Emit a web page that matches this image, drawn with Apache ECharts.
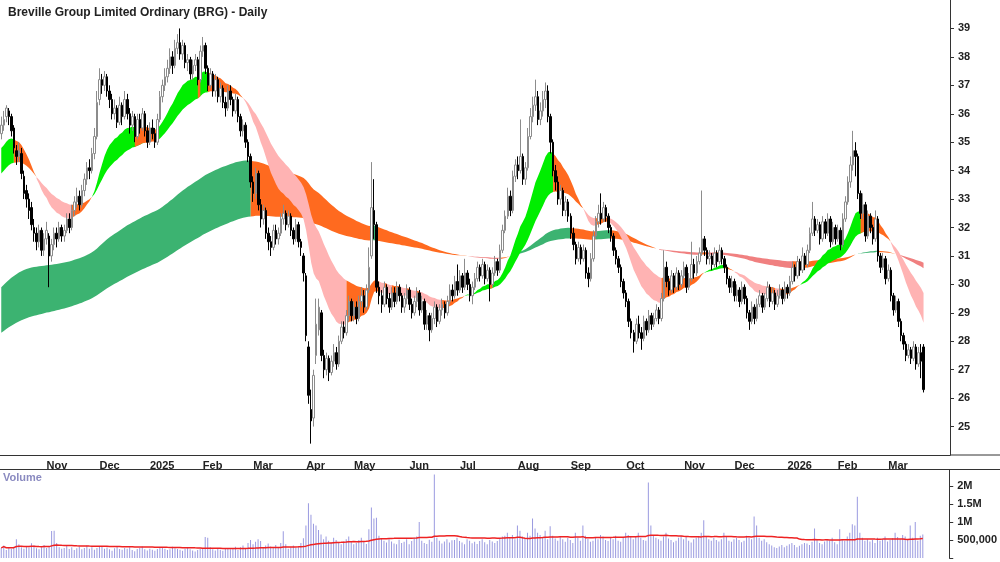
<!DOCTYPE html>
<html><head><meta charset="utf-8">
<script src="https://cdn.jsdelivr.net/npm/echarts@6/dist/echarts.min.js"></script>
<style>html,body{margin:0;padding:0;background:#fff}#c{width:1000px;height:562px}</style>
</head><body><div id="c"></div>
<script>
const TITLE = 'Breville Group Limited Ordinary (BRG) - Daily';
const START_DATE = '2024-10-08';
const HOLIDAYS = ['2024-12-25','2024-12-26','2025-01-01','2025-01-27','2025-04-18','2025-04-21','2025-04-25','2025-06-09','2025-12-25','2025-12-26','2026-01-01','2026-01-26'];
const EMPTY_DAYS_AT_END = 10;
// [open, close, low, high]
const candles = [
[35.3,35.6,35.1,35.9],[35.6,35.8,35.4,36.1],[35.9,36.2,35.7,36.3],[36.1,35.9,35.6,36.2],[35.9,35.4,35.2,36.0],[35.5,34.8,34.6,35.6],[34.7,34.5,34.2,34.9],[34.5,34.7,34.3,35.0],[34.6,33.9,33.7,34.8],[33.8,33.2,33.0,34.0],
[33.3,33.0,32.7,33.5],[33.0,32.6,32.3,33.2],[32.7,32.1,31.9,32.9],[32.0,31.8,31.5,32.3],[31.8,31.5,31.2,32.0],[31.5,31.9,31.3,32.1],[31.9,31.2,31.0,32.0],[31.2,31.6,31.0,31.8],[31.6,31.9,31.4,32.2],[31.7,31.0,29.9,31.8],
[31.0,31.4,30.8,31.6],[31.4,31.8,31.2,32.0],[31.8,31.6,31.3,32.0],[31.6,32.0,31.5,32.2],[32.0,31.7,31.5,32.1],[31.7,31.9,31.5,32.1],[31.9,32.3,31.8,32.5],[32.3,32.0,31.8,32.5],[32.0,32.6,31.9,32.8],[32.6,32.9,32.4,33.1],
[32.9,33.1,32.7,33.4],[33.1,32.8,32.6,33.3],[32.8,33.3,32.7,33.5],[33.3,33.7,33.1,33.9],[33.7,34.1,33.5,34.3],[34.1,34.0,33.7,34.4],[34.0,34.6,33.9,34.8],[34.6,35.2,34.4,35.5],[35.2,36.4,35.1,36.8],[36.5,37.2,36.3,37.6],
[37.2,37.0,36.7,37.4],[37.0,37.3,36.8,37.5],[37.3,36.8,36.6,37.4],[36.8,36.5,36.2,37.0],[36.5,36.0,35.8,36.7],[36.0,36.2,35.8,36.5],[36.2,35.7,35.5,36.3],[35.7,36.3,35.6,36.6],[36.3,35.9,35.6,36.4],[35.9,36.5,35.8,36.8],
[36.5,36.0,35.8,36.7],[36.0,35.6,35.3,36.2],[35.6,35.9,35.4,36.1],[35.9,35.2,35.0,36.0],[35.2,35.8,35.1,36.0],[35.8,35.5,35.3,36.0],[35.5,36.0,35.4,36.2],[36.0,35.4,35.2,36.1],[35.4,35.0,34.8,35.6],[35.0,35.5,34.9,35.7],
[35.5,35.3,35.1,35.8],[35.3,35.0,34.8,35.5],[35.0,35.8,34.9,36.0],[35.8,36.6,35.7,36.8],[36.6,37.0,36.4,37.2],[37.0,37.3,36.8,37.6],[37.3,37.6,37.1,37.9],[37.6,38.0,37.4,38.3],[38.0,37.7,37.4,38.2],[37.7,38.3,37.6,38.6],
[38.3,38.5,38.1,38.8],[38.5,38.1,37.9,39.0],[38.1,38.4,37.9,38.6],[38.4,37.8,37.6,38.5],[37.8,37.9,37.5,38.1],[37.9,37.4,37.2,38.0],[37.4,37.7,37.2,37.9],[37.7,37.9,37.5,38.1],[37.9,37.2,37.0,38.0],[37.2,38.2,37.1,38.4],
[38.2,38.4,38.0,38.7],[38.4,37.6,37.4,38.5],[37.6,37.0,36.8,37.7],[37.0,37.4,36.9,37.6],[37.4,36.8,36.6,37.5],[36.8,37.2,36.6,37.4],[37.2,36.6,36.4,37.3],[36.6,36.9,36.4,37.1],[36.9,36.4,36.2,37.0],[36.4,36.2,35.9,36.6],
[36.2,36.8,36.1,37.0],[36.8,36.5,36.3,37.0],[36.5,36.1,35.9,36.6],[36.1,36.5,36.0,36.7],[36.5,35.9,35.7,36.6],[35.9,35.4,35.2,36.0],[35.4,35.6,35.2,35.8],[35.6,35.0,34.8,35.7],[35.0,34.5,34.3,35.1],[34.5,33.6,33.4,34.6],
[33.6,33.2,32.9,33.8],[33.2,33.9,33.0,34.1],[33.9,32.8,32.6,34.0],[32.8,32.3,32.0,33.0],[32.3,32.6,32.1,32.8],[32.6,31.8,31.6,32.7],[31.8,31.5,31.2,32.0],[31.5,31.3,31.0,31.7],[31.3,31.9,31.2,32.1],[31.9,31.6,31.4,32.1],
[31.6,31.8,31.4,32.0],[31.8,32.3,31.7,32.5],[32.3,32.5,32.1,32.8],[32.5,32.1,31.9,32.6],[32.1,32.4,32.0,32.6],[32.4,31.9,31.7,32.5],[31.9,31.6,31.4,32.0],[31.6,32.1,31.5,32.3],[32.1,31.5,31.3,32.2],[31.5,31.3,31.0,31.6],
[31.0,30.4,30.1,31.1],[30.3,28.2,28.0,30.4],[27.8,26.1,25.8,28.0],[25.6,25.2,24.4,26.3],[25.3,26.8,25.0,27.0],[27.5,28.6,27.2,29.5],[28.4,29.2,28.2,29.5],[29.0,27.5,27.3,29.1],[27.5,27.0,26.7,27.7],[27.0,27.4,26.8,27.6],
[27.4,26.9,26.6,27.5],[26.9,27.3,26.8,27.5],[27.3,27.6,27.1,27.9],[27.6,27.2,27.0,27.8],[27.2,28.0,27.1,28.2],[28.0,28.5,27.9,28.7],[28.5,28.3,28.1,28.7],[28.3,28.9,28.2,29.1],[28.9,29.4,28.7,29.6],[29.4,28.9,28.7,29.5],
[28.9,29.2,28.7,29.4],[29.2,28.8,28.6,29.4],[28.8,29.4,28.7,29.6],[29.4,29.6,29.2,29.9],[29.6,29.2,29.0,29.8],[29.2,29.8,29.1,30.0],[29.8,30.6,29.7,31.3],[31.0,32.7,30.9,34.3],[32.6,32.1,31.6,33.7],[32.1,29.9,29.7,32.2],
[29.9,29.6,29.3,30.1],[29.6,29.3,29.0,29.8],[29.3,29.9,29.2,30.1],[29.9,29.5,29.3,30.0],[29.5,29.2,29.0,29.7],[29.2,29.7,29.1,29.9],[29.7,29.4,29.2,29.9],[29.4,29.9,29.3,30.1],[29.9,29.6,29.4,30.0],[29.6,29.2,29.0,29.7],
[29.2,29.5,29.0,29.7],[29.5,29.8,29.3,30.0],[29.8,29.3,29.1,29.9],[29.3,29.0,28.8,29.5],[29.0,29.4,28.9,29.6],[29.4,29.7,29.2,29.9],[29.7,29.1,28.9,29.8],[29.1,29.4,29.0,29.6],[29.4,28.6,28.4,29.5],[28.6,28.9,28.4,29.1],
[28.9,28.4,28.0,29.0],[28.4,28.8,28.3,29.0],[28.8,29.2,28.6,29.4],[29.2,28.7,28.5,29.3],[28.7,29.1,28.6,29.3],[29.1,29.3,28.9,29.5],[29.3,29.0,28.8,29.4],[29.0,29.4,28.9,29.6],[29.4,29.8,29.3,30.0],[29.8,29.6,29.4,30.0],
[29.6,30.1,29.5,30.3],[30.1,29.8,29.6,30.7],[29.8,30.3,29.7,30.5],[30.3,29.9,29.7,30.4],[29.9,30.4,29.8,30.9],[30.4,30.0,29.8,30.5],[30.0,29.6,29.4,30.2],[29.6,29.9,29.3,30.1],[29.9,30.2,29.8,30.4],[30.2,30.6,30.1,30.8],
[30.6,30.3,30.1,30.7],[30.3,30.7,30.2,30.9],[30.7,30.2,30.0,30.8],[30.2,30.5,30.1,30.7],[30.5,30.0,29.4,30.6],[30.0,30.4,29.9,30.6],[30.4,30.8,30.3,31.0],[30.8,30.5,30.3,30.9],[30.5,31.2,30.4,31.4],[31.2,31.9,31.1,32.1],
[31.9,32.4,31.8,32.6],[32.4,33.1,32.3,33.4],[33.1,32.6,32.4,33.3],[32.6,33.8,32.5,34.0],[33.8,34.2,33.6,34.4],[34.2,34.0,33.7,34.5],[34.0,34.5,33.9,35.8],[34.5,33.7,33.5,34.6],[33.7,34.1,33.5,34.3],[34.1,35.2,34.0,35.5],
[35.2,35.9,35.1,36.2],[35.9,36.3,35.7,36.6],[36.3,36.6,36.1,37.2],[36.6,35.8,35.6,36.8],[35.8,36.1,35.6,36.4],[36.1,36.5,35.9,36.8],[36.5,36.8,36.2,37.1],[36.8,35.9,35.7,37.0],[35.9,35.0,34.6,36.0],[35.0,34.0,33.8,35.1],
[34.0,33.6,33.3,34.2],[33.6,33.0,32.8,33.8],[33.0,33.3,32.8,33.5],[33.3,32.6,32.4,33.4],[32.6,32.9,32.4,33.1],[32.9,32.4,32.2,33.0],[32.4,31.8,31.6,32.5],[31.8,31.4,31.2,32.0],[31.4,30.9,30.7,31.5],[30.9,31.3,30.8,31.5],
[31.3,30.9,30.7,31.4],[30.9,31.2,30.8,31.4],[31.2,30.4,30.2,31.3],[30.4,30.2,29.9,30.6],[30.2,30.9,30.1,31.1],[30.9,31.7,30.8,31.9],[31.7,32.2,31.6,32.4],[32.2,32.5,32.0,32.8],[32.5,32.3,32.1,33.2],[32.3,32.7,32.2,32.9],
[32.7,32.4,32.2,32.8],[32.4,32.0,31.8,32.5],[32.0,31.7,31.5,32.1],[31.7,31.2,31.0,31.8],[31.2,30.9,30.7,31.3],[30.9,30.6,30.4,31.0],[30.6,30.1,29.9,30.7],[30.1,29.7,29.5,30.2],[29.7,29.4,29.2,29.8],[29.4,28.7,28.5,29.5],
[28.7,28.3,28.1,28.8],[28.3,28.0,27.6,28.4],[28.0,28.6,27.9,28.8],[28.6,28.3,28.1,28.9],[28.3,28.1,27.7,28.5],[28.1,28.7,28.0,28.9],[28.7,28.4,28.2,28.8],[28.4,28.9,28.3,29.1],[28.9,28.6,28.4,29.0],[28.6,28.8,28.5,29.0],
[28.8,29.1,28.7,29.3],[29.1,28.8,28.6,29.2],[28.8,29.5,28.7,29.7],[29.5,30.6,29.4,31.2],[30.6,30.1,29.9,30.8],[30.1,29.8,29.6,30.3],[29.8,30.3,29.7,30.5],[30.3,29.9,29.7,30.4],[29.9,30.4,29.8,30.6],[30.4,30.0,29.8,30.5],
[30.0,30.3,29.9,30.5],[30.3,30.6,30.2,30.8],[30.6,29.9,29.7,30.7],[29.9,30.2,29.8,30.4],[30.2,30.7,30.1,31.5],[30.7,30.4,30.2,30.9],[30.4,30.8,30.3,31.0],[30.8,31.1,30.7,31.3],[31.1,31.6,31.0,33.3],[31.6,31.2,31.0,31.7],
[31.2,30.9,30.7,31.3],[30.9,31.0,30.7,31.2],[31.0,30.7,30.5,31.1],[30.7,31.1,30.6,31.3],[31.1,30.8,30.6,31.2],[30.8,31.2,30.7,31.4],[31.2,30.9,30.7,31.3],[30.9,30.6,30.4,31.0],[30.6,30.2,30.0,30.7],[30.2,29.9,29.7,30.3],
[29.9,30.1,29.7,30.3],[30.1,29.6,29.4,30.2],[29.6,29.8,29.4,30.0],[29.8,29.4,29.2,29.9],[29.4,29.9,29.3,30.1],[29.9,29.5,29.3,30.0],[29.5,29.0,28.8,29.6],[29.0,28.7,28.4,29.1],[28.7,29.2,28.6,29.4],[29.2,28.8,28.6,29.3],
[28.8,29.3,28.7,29.5],[29.3,29.6,29.2,29.8],[29.6,29.2,29.0,29.7],[29.2,29.5,29.1,29.7],[29.5,29.9,29.4,30.1],[29.9,29.4,29.2,30.0],[29.4,29.7,29.3,29.9],[29.7,29.3,29.1,29.8],[29.3,29.6,29.2,29.8],[29.6,29.8,29.5,30.0],
[29.8,29.5,29.3,29.9],[29.5,29.9,29.4,30.1],[29.9,29.7,29.5,30.0],[29.7,30.1,29.6,30.3],[30.1,30.6,30.0,30.8],[30.6,30.3,30.1,30.7],[30.3,30.8,30.2,31.0],[30.8,30.5,30.3,30.9],[30.5,31.0,30.4,31.3],[31.0,30.7,30.5,31.1],
[30.7,31.2,30.6,31.4],[31.2,31.8,31.1,32.0],[31.8,32.3,31.7,32.9],[32.3,31.9,31.7,32.4],[31.9,32.1,31.8,32.3],[32.1,31.6,31.4,32.2],[31.6,32.2,31.5,32.4],[32.2,31.8,31.6,32.3],[31.8,32.3,31.7,32.5],[32.3,31.5,31.3,32.4],
[31.5,32.0,31.4,32.2],[32.0,31.6,31.4,32.1],[31.6,31.9,31.5,32.1],[31.9,31.4,31.2,32.0],[31.4,32.3,31.3,32.5],[32.3,32.9,32.2,33.1],[32.9,33.6,32.8,33.8],[33.6,34.2,33.4,34.5],[34.2,34.7,34.0,35.4],[34.7,34.5,33.8,35.0],
[34.5,33.2,33.0,34.6],[33.2,32.5,32.3,33.3],[32.5,32.8,32.3,33.2],[32.8,31.7,31.5,32.9],[31.7,32.4,31.6,32.6],[32.4,32.0,31.8,32.5],[32.0,31.6,31.4,32.1],[31.6,32.3,31.5,32.6],[32.3,31.0,30.8,32.4],[31.0,30.6,30.4,31.1],
[30.6,30.9,30.5,31.1],[30.9,30.2,30.0,31.0],[30.2,30.5,30.1,30.7],[30.5,29.6,29.4,30.6],[29.6,29.1,28.9,29.7],[29.1,29.4,29.0,29.6],[29.4,28.7,28.5,29.5],[28.7,28.2,28.0,28.8],[28.2,27.9,27.7,28.3],[27.9,27.5,27.3,28.0],
[27.5,27.7,27.4,27.9],[27.7,27.4,27.2,27.8],[27.4,27.8,27.3,28.0],[27.8,27.2,27.0,27.9],[27.2,27.6,27.1,27.8],[27.6,27.3,26.7,27.9],[27.8,26.3,26.2,27.9]
];
// volume in thousands
const volumes = [
280,350,220,300,260,310,520,380,300,260,330,290,410,350,270,240,300,360,280,310,
750,760,420,300,260,280,330,250,300,220,270,310,240,280,350,260,300,230,280,330,
310,260,290,240,200,270,310,250,230,280,260,300,220,190,250,280,320,240,210,260,
230,200,250,280,300,260,220,240,310,270,250,230,200,260,290,240,210,180,220,250,
260,580,560,300,240,210,270,230,200,250,280,240,260,310,220,300,350,280,420,500,
380,450,520,470,300,350,400,320,280,360,300,420,740,380,260,300,350,280,310,420,
550,900,1520,1200,950,900,780,650,520,600,480,430,560,500,420,380,460,520,600,450,
380,420,500,560,460,390,800,1400,1100,1120,620,550,480,430,520,460,400,380,510,420,
450,520,380,470,560,600,1000,480,420,390,510,450,2320,560,480,400,460,520,430,490,
500,560,470,430,380,520,480,410,450,390,470,520,440,380,500,460,420,470,550,600,
620,700,580,640,520,900,760,600,550,700,620,1100,820,700,640,580,760,520,880,620,
540,480,600,520,450,560,500,420,700,560,480,900,620,530,450,480,560,520,640,600,
500,470,560,520,620,480,450,560,700,640,580,520,600,700,560,500,480,2100,900,640,
560,520,480,600,700,540,500,440,480,560,620,520,580,480,430,520,560,600,700,1050,
580,520,480,560,500,460,520,700,600,480,450,520,560,500,440,480,620,560,520,1150,
900,560,480,520,440,380,350,300,280,320,360,300,340,380,420,360,300,340,380,420,
400,360,450,820,500,420,380,460,520,480,560,440,380,800,520,480,600,700,940,900,
1700,700,560,480,520,460,500,420,560,480,520,600,460,500,550,700,580,520,640,600,500,900,560,1000,480,620,650
];
const priceTicks = [25,26,27,28,29,30,31,32,33,34,35,36,37,38,39];
const volTickLabels = {500000:'500,000',1000000:'1M',1500000:'1.5M',2000000:'2M'};
const shortPeriods = [20, 40], shortSeeds = [34.8, 33.9];
const longPeriods = [140, 240], longSeeds = [29.9, 28.3];
const volMAPeriod = 60;

const dates = [];
{ let d = new Date(START_DATE + 'T00:00:00Z');
  const total = candles.length + EMPTY_DAYS_AT_END;
  while (dates.length < total) {
    const w = d.getUTCDay(); const s = d.toISOString().slice(0,10);
    if (w !== 0 && w !== 6 && !HOLIDAYS.includes(s)) dates.push(s);
    d.setUTCDate(d.getUTCDate() + 1);
  } }
const MONTHS = ['Jan','Feb','Mar','Apr','May','Jun','Jul','Aug','Sep','Oct','Nov','Dec'];
const isMonthStart = i => i > 0 && i < candles.length && dates[i].slice(5,7) !== dates[i-1].slice(5,7);
const closes = candles.map(c => c[1]);
function ema(period, seed) {
  const a = 2/(period+1); let v = seed; const out = [];
  closes.forEach((c,i) => { if (i>0) v = v + a*(c - v); out.push(v); });
  return out;
}
function ribbon(periods, seeds, colors, prefix, z) {
  const f = ema(periods[0], seeds[0]), s = ema(periods[1], seeds[1]);
  const col = f.map((v,i) => {
    const rising = i === 0 ? true : v >= f[i-1];
    if (v >= s[i] && rising) return colors[0];
    if (v < s[i] && !rising) return colors[1];
    return colors[2];
  });
  const series = [];
  colors.forEach((c, k) => {
    const base = [], wid = [];
    for (let i = 0; i < f.length; i++) {
      const on = col[i] === c || (i > 0 && col[i-1] === c);
      base.push(on ? Math.min(f[i], s[i]) : '-');
      wid.push(on ? Math.abs(f[i] - s[i]) : '-');
    }
    const st = prefix + k;
    series.push({type:'line', data: base, stack: st, symbol:'none', lineStyle:{opacity:0}, silent:true, z});
    series.push({type:'line', data: wid, stack: st, symbol:'none', lineStyle:{opacity:0}, areaStyle:{color:c, opacity:1}, silent:true, z});
  });
  return series;
}
const volMA = volumes.map((v,i) => {
  const a = Math.max(0, i - volMAPeriod + 1); let s = 0;
  for (let j = a; j <= i; j++) s += volumes[j];
  return s / (i - a + 1) * 1000;
});

const chart = echarts.init(document.getElementById('c'));
const F = 'Liberation Sans, Arial, sans-serif';
chart.setOption({
  animation: false,
  textStyle: {fontFamily: F},
  title: {text: TITLE, left: 3, top: 2, textStyle: {fontSize: 12, fontWeight: 'bold', color: '#222', fontFamily: F}},
  grid: [
    {left: 0, right: 50, top: 0, height: 455},
    {left: 0, right: 50, top: 470, height: 88}
  ],
  xAxis: [
    {type:'category', data: dates, gridIndex:0, boundaryGap: true,
     axisLine:{lineStyle:{color:'#333'}},
     axisTick:{interval:(i)=>isMonthStart(i), length:4, lineStyle:{color:'#333'}},
     axisLabel:{interval:(i)=>isMonthStart(i), align:'left', fontSize:11, fontWeight:'bold', color:'#222', margin:5,
       formatter:(v)=>{ const m = +v.slice(5,7); return m===1 ? v.slice(0,4) : MONTHS[m-1]; }},
     splitLine:{show:false}},
    {type:'category', data: dates, gridIndex:1, boundaryGap: true,
     axisLine:{show:false}, axisTick:{show:false}, axisLabel:{show:false}, splitLine:{show:false}}
  ],
  yAxis: [
    {type:'value', gridIndex:0, position:'right', min:24, max:40, interval:1,
     axisLine:{show:true, lineStyle:{color:'#333'}}, axisTick:{show:true, length:4, lineStyle:{color:'#333'}},
     axisLabel:{showMinLabel:false, showMaxLabel:false, fontSize:11, fontWeight:'bold', color:'#222', margin:8,
       formatter:(v)=> priceTicks.includes(v) ? String(v) : ''},
     splitLine:{show:false}},
    {type:'value', gridIndex:1, position:'right', min:0, max:2444000, interval:500000,
     axisLine:{show:true, lineStyle:{color:'#333'}}, axisTick:{show:true, length:4, lineStyle:{color:'#333'}},
     axisLabel:{showMaxLabel:false, fontSize:11, fontWeight:'bold', color:'#222', margin:8,
       formatter:(v)=> volTickLabels[v] || ''},
     splitLine:{show:false}}
  ],
  graphic: [
    {type:'text', left: 3, top: 472, style:{text:'Volume', fill:'#8a8ac0', font:'bold 11px Liberation Sans, Arial'}},
    {type:'line', shape:{x1:0, y1:469.5, x2:1000, y2:469.5}, style:{stroke:'#333', lineWidth:1}},
    {type:'line', shape:{x1:950, y1:455, x2:1000, y2:455}, style:{stroke:'#333', lineWidth:1}}
  ],
  series: [
    ...ribbon(longPeriods, longSeeds, ['#3cb371','#f08080','#ff6a1f'], 'L', 1),
    ...ribbon(shortPeriods, shortSeeds, ['#00ee00','#ffb3b3','#ff6a1f'], 'S', 2),
    {type:'candlestick', data: candles, xAxisIndex:0, yAxisIndex:0, barWidth: 2, z: 5,
     itemStyle:{color:'#ffffff', color0:'#000000', borderColor:'#8c8c8c', borderColor0:'#000000', borderWidth:1}},
    {type:'bar', data: volumes.map(v=>v*1000), xAxisIndex:1, yAxisIndex:1, barWidth:1,
     itemStyle:{color:'#9a9ae0'}},
    {type:'line', data: volMA, xAxisIndex:1, yAxisIndex:1, symbol:'none', lineStyle:{color:'#ee2222', width:1.5}, z:5}
  ]
});
</script></body></html>
